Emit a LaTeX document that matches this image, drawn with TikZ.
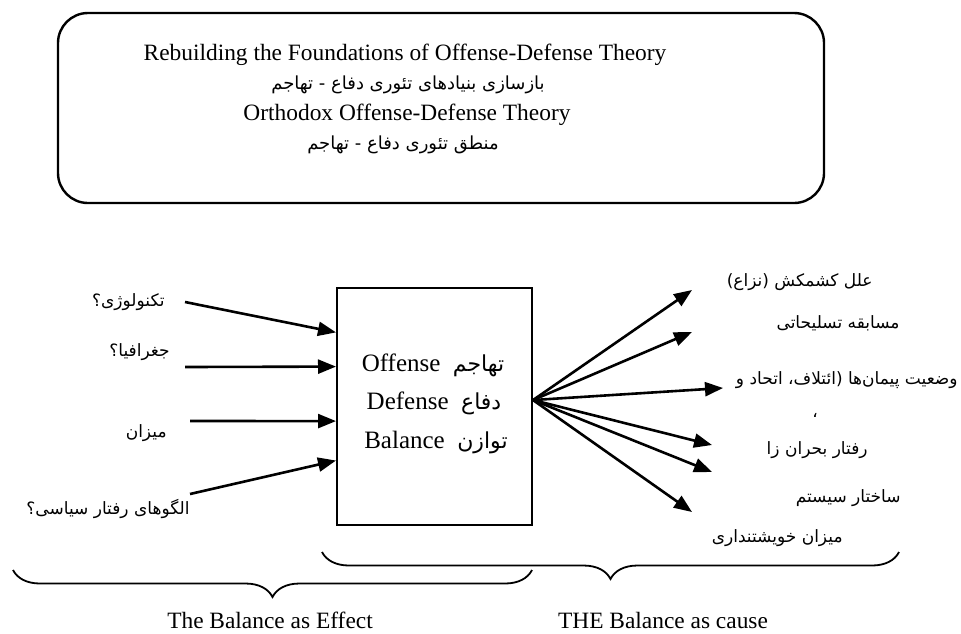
\documentclass[tikz,border=0pt]{standalone}
\usepackage{fontspec}
\setmainfont{Liberation Serif}
\newfontfamily\fa[Script=Arabic]{DejaVu Sans}
\TeXXeTstate=1
\usetikzlibrary{arrows.meta,positioning,calc,decorations.pathreplacing}
\newcommand{\fat}[2][8.5]{{\fa\fontsize{#1}{10}\selectfont\beginR #2\endR}}

\begin{document}
\begin{tikzpicture}[x=0.5pt,y=-0.5pt,>={Triangle[length=9pt,width=7pt]},font=\fontsize{11.7}{14}\selectfont]
\tikzstyle{A}=[->,line width=1.3pt]
\tikzstyle{L}=[inner sep=0pt,anchor=east]
\tikzstyle{B}=[decorate,decoration={brace,mirror,amplitude=13.5pt},line width=0.9pt]
\useasboundingbox (0,0) rectangle (961,633);
\node[draw,line width=1.2pt,rounded corners=15pt,minimum width=383pt,minimum height=95pt] (title) at (441,108) {};
\node (t1) at (405,55) {Rebuilding the Foundations of Offense-Defense Theory};
\node (t2) at (408,85) {\fat[9]{بازسازی بنیادهای تئوری دفاع - تهاجم}};
\node (t3) at (407,115) {Orthodox Offense-Defense Theory};
\node (t4) at (403,145) {\fat[9]{منطق تئوری دفاع - تهاجم}};
\node[draw,line width=1pt,minimum width=97.5pt,minimum height=118.5pt] (bal) at (434.5,406.5) {};
\node (b1) at (433,365) {\fontsize{12.5}{14}\selectfont Offense\ \ \fat[11]{تهاجم}};
\node (b2) at (434,403) {\fontsize{12.5}{14}\selectfont Defense\ \ \fat[11]{دفاع}};
\node (b3) at (436,442) {\fontsize{12.5}{14}\selectfont Balance\ \ \fat[11]{توازن}};
\node[L] (l1) at (165,302) {\fat{تکنولوژی؟}};
\node[L] (l2) at (170,352) {\fat{جغرافیا؟}};
\node[L] (l3) at (167,433) {\fat{میزان}};
\node[L] (l4) at (190,509) {\fat{الگوهای رفتار سیاسی؟}};
\coordinate (s1) at (185,302);
\coordinate (s2) at (185,367);
\coordinate (s3) at (190,421);
\coordinate (s4) at (190,494);
\draw[A] (s1) -- ($(bal.north west)!0.19!(bal.south west)$);
\draw[A] (s2) -- ($(bal.north west)!0.333!(bal.south west)$);
\draw[A] (s3) -- ($(bal.north west)!0.561!(bal.south west)$);
\draw[A] (s4) -- ($(bal.north west)!0.726!(bal.south west)$);
\node[L] (r1) at (873,282) {\fat{علل کشمکش (نزاع)}};
\node[L] (r2) at (900,323) {\fat{مسابقه تسلیحاتی}};
\node[L] (r3) at (958,380) {\fat{وضعیت پیمان‌ها (ائتلاف، اتحاد و}};
\node (r3b) at (815,415) {\fat{،}};
\node[L] (r4) at (868,450) {\fat{رفتار بحران زا}};
\node[L] (r5) at (901,498) {\fat{ساختار سیستم}};
\node[L] (r6) at (843,538) {\fat{میزان خویشتنداری}};
\coordinate (hub) at ($(bal.north east)!0.473!(bal.south east)$);
\coordinate (e1) at (692,290);
\coordinate (e2) at (692,332);
\coordinate (e3) at (723,388);
\coordinate (e4) at (712,445);
\coordinate (e5) at (712,472);
\coordinate (e6) at (692,512);
\foreach \e in {e1,e2,e3,e4,e5,e6} \draw[A] (hub) -- (\e);
\coordinate (fx1) at (13,570);
\coordinate (fx2) at (532,570);
\coordinate (cs1) at (322,552);
\coordinate (cs2) at (899,552);
\draw[B] (fx1) -- (fx2);
\draw[B] (cs1) -- (cs2);
\node (eff) at (270,620) {The Balance as Effect};
\node (cau) at (663,620) {THE Balance as cause};
\end{tikzpicture}
\end{document}
